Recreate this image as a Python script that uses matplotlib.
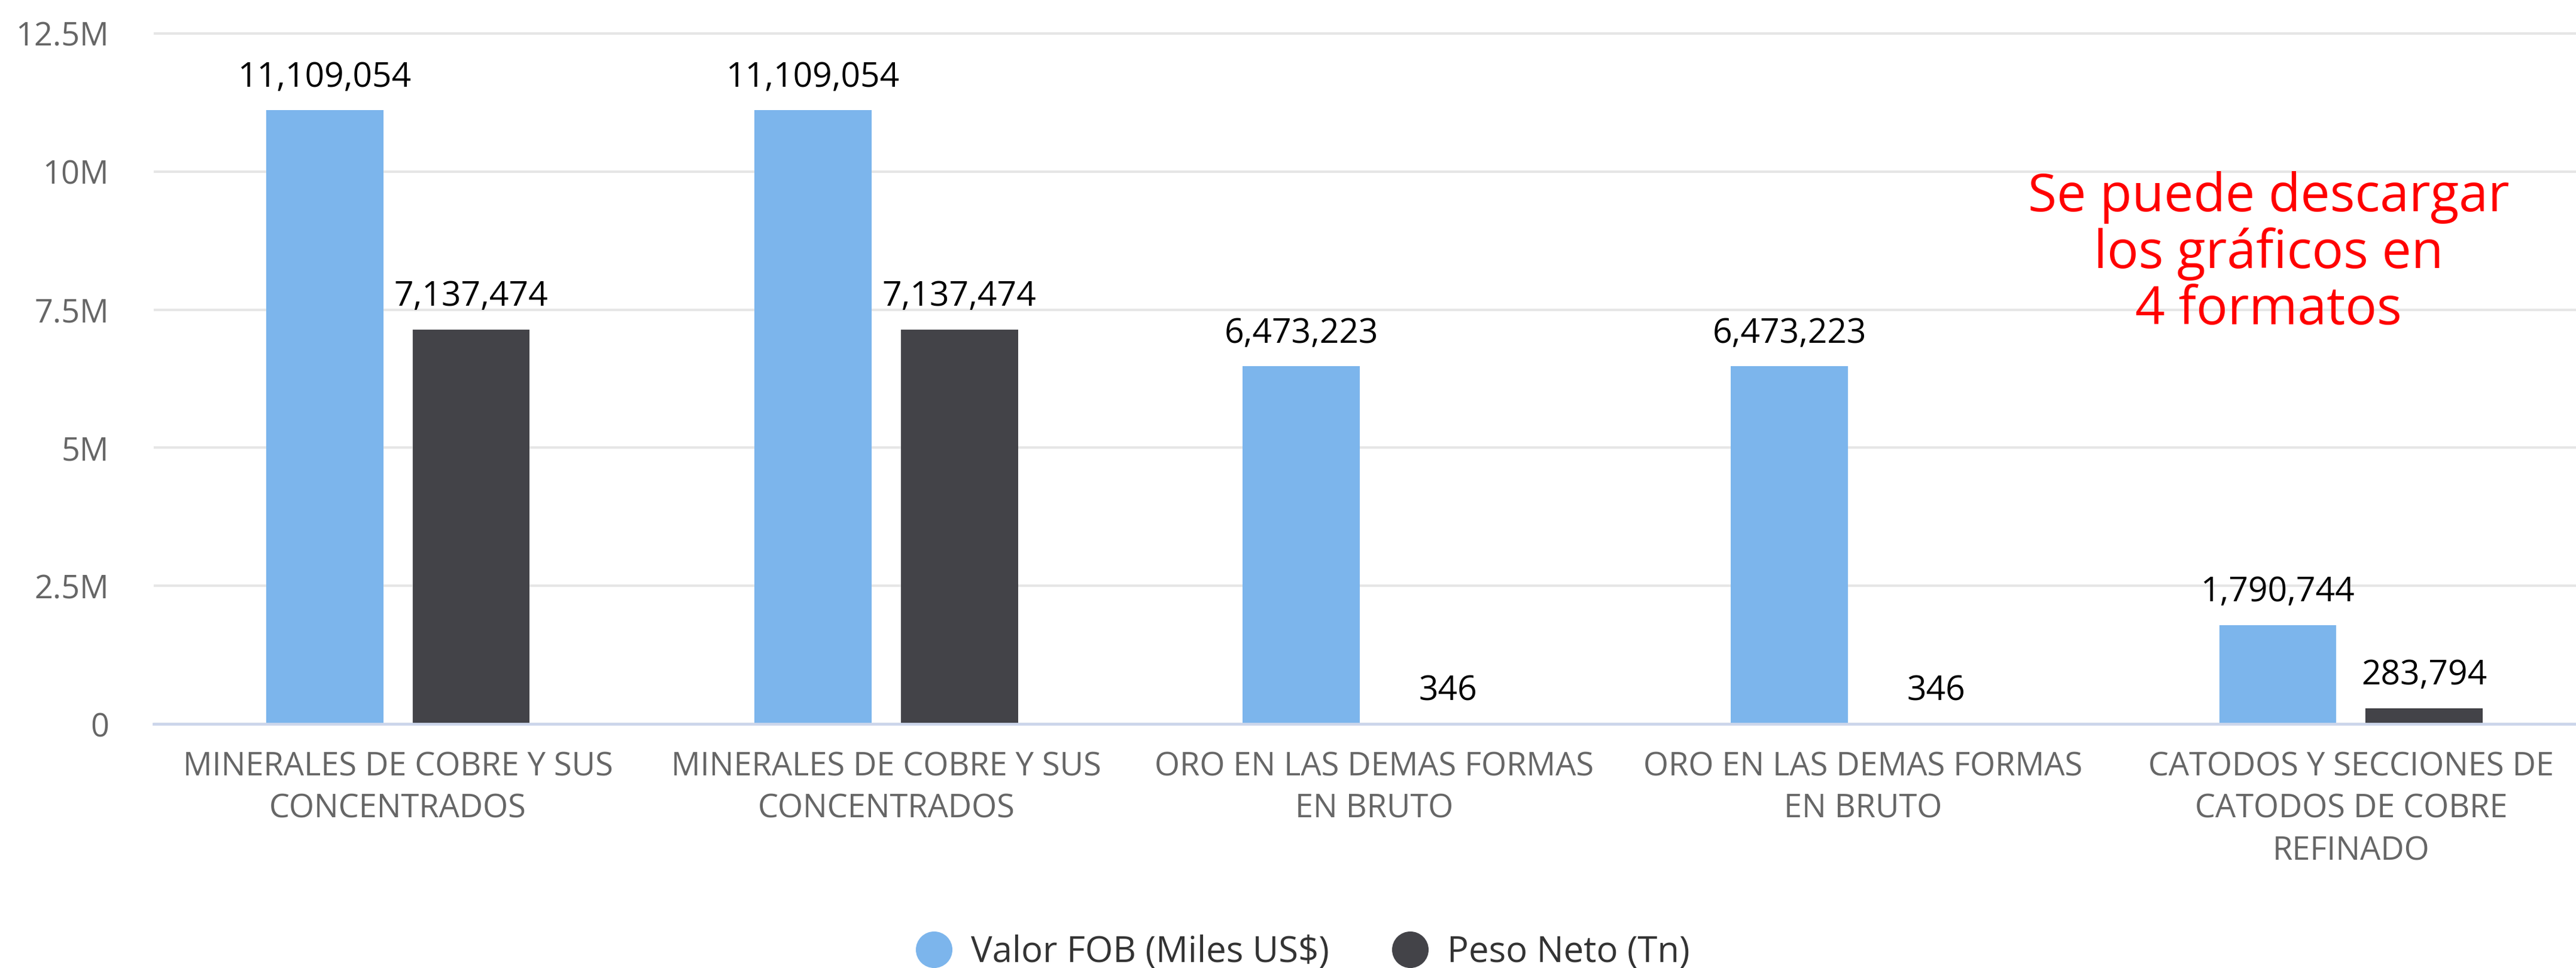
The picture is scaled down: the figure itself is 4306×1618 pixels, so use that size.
import matplotlib
matplotlib.use("Agg")
import matplotlib.pyplot as plt
from matplotlib.lines import Line2D
from matplotlib.ticker import FixedLocator, FuncFormatter

plt.rcParams["font.family"] = ["Open Sans", "DejaVu Sans"]

# Export products and their values
categories = [
    "MINERALES DE COBRE Y SUS\nCONCENTRADOS",
    "MINERALES DE COBRE Y SUS\nCONCENTRADOS",
    "ORO EN LAS DEMAS FORMAS\nEN BRUTO",
    "ORO EN LAS DEMAS FORMAS\nEN BRUTO",
    "CATODOS Y SECCIONES DE\nCATODOS DE COBRE\nREFINADO",
]
valor_fob = [11109054, 11109054, 6473223, 6473223, 1790744]
peso_neto = [7137474, 7137474, 346, 346, 283794]
series_names = ["Valor FOB (Miles US$)", "Peso Neto (Tn)"]
y_ticks = [0, 2.5e6, 5e6, 7.5e6, 10e6, 12.5e6]
y_tick_labels = ["0", "2.5M", "5M", "7.5M", "10M", "12.5M"]

W, H = 4306, 1618
fig = plt.figure(figsize=(W / 100, H / 100), dpi=100)
fig.patch.set_facecolor("white")

# plot area in pixels (extends a little past the right edge)
left_px, right_px = 257, 4338
base_px = 1210
unit_px = 230.8 / 2.5e6
ymax = 12.6e6
top_px = base_px - ymax * unit_px
ax = fig.add_axes([left_px / W, (H - base_px) / H,
                   (right_px - left_px) / W, (base_px - top_px) / H])

blue, dark = "#7cb5ec", "#434348"
x = range(len(categories))
bw = 0.24
off = 0.15
b1 = ax.bar([i - off for i in x], valor_fob, width=bw, color=blue, zorder=3)
b2 = ax.bar([i + off for i in x], peso_neto, width=bw, color=dark, zorder=3)

for bars, vals in ((b1, valor_fob), (b2, peso_neto)):
    for rect, v in zip(bars, vals):
        ax.annotate(f"{v:,}", xy=(rect.get_x() + rect.get_width() / 2, v),
                    xytext=(0, 39), textcoords="offset points",
                    ha="center", va="center", fontsize=41, color="#000000",
                    zorder=4)

ax.set_xlim(-0.5, len(categories) - 0.5)
ax.set_ylim(0, ymax)
ax.yaxis.set_major_locator(FixedLocator(y_ticks))
ax.yaxis.set_major_formatter(FuncFormatter(lambda v, p: y_tick_labels[y_ticks.index(v)] if v in y_ticks else ""))
ax.set_xticks(list(x))
ax.set_xticklabels(categories, linespacing=1.37)

ax.tick_params(axis="y", length=0, pad=54, labelsize=39, labelcolor="#666666")
ax.tick_params(axis="x", length=0, pad=32, labelsize=39, labelcolor="#666666")

ax.grid(axis="y", color="#e6e6e6", linewidth=3.0, zorder=0)
ax.grid(axis="x", visible=False)
for s in ("top", "right", "left"):
    ax.spines[s].set_visible(False)
ax.spines["bottom"].set_color("#ccd6eb")
ax.spines["bottom"].set_linewidth(3.4)
ax.spines["bottom"].set_zorder(5)
ax.set_facecolor("none")

handles = [Line2D([], [], ls="", marker="o", markersize=43, color=blue),
           Line2D([], [], ls="", marker="o", markersize=43, color=dark)]
fig.legend(handles, series_names, loc="center",
           bbox_to_anchor=(2178 / W, 1 - 1592 / H), ncol=2, frameon=False,
           fontsize=43, labelcolor="#333333", handlelength=1.0,
           handletextpad=0.55, columnspacing=1.75, borderpad=0)

fig.text(3792 / W, 1 - 286 / H,
         "Se puede descargar\nlos gráficos en\n4 formatos",
         ha="center", va="top", multialignment="center",
         fontsize=63, color="#ff0000", linespacing=1.09)

fig.savefig("out.png", dpi=100, facecolor="white")
